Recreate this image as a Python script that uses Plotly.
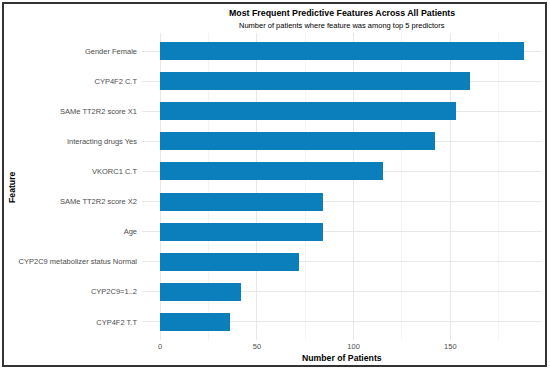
import plotly.graph_objects as go

features = ["Gender Female", "CYP4F2 C.T", "SAMe TT2R2 score X1", "Interacting drugs Yes",
            "VKORC1 C.T", "SAMe TT2R2 score X2", "Age", "CYP2C9 metabolizer status Normal",
            "CYP2C9=1..2", "CYP4F2 T.T"]
counts = [188, 160, 153, 142, 115, 84, 84, 72, 42, 36]

W, H = 550, 370
L, R, T, B = 142, 8, 33, 30
pw, ph = W - L - R, H - T - B


def px(x):
    return (x - L) / pw


def py(y):
    return (H - B - y) / ph


fig = go.Figure(go.Bar(
    x=counts, y=features, orientation="h", width=0.6,
    marker=dict(color="#0A7FBB", line=dict(width=0)),
))

xmax = max(counts)
fig.update_layout(
    width=W, height=H,
    margin=dict(l=L, r=R, t=T, b=B, autoexpand=False),
    paper_bgcolor="white", plot_bgcolor="white",
    font=dict(family="Liberation Sans, Arial, sans-serif", color="#4D4D4D", size=7.5),
    showlegend=False,
    xaxis=dict(range=[-0.05 * xmax, 1.05 * xmax], tickvals=[0, 50, 100, 150],
               automargin=False,
               showgrid=True, gridcolor="#E8E8E8", gridwidth=1,
               minor=dict(tickvals=[25, 75, 125, 175], showgrid=True, gridcolor="#F4F4F4", gridwidth=1),
               zeroline=False, showline=False, ticks="",
               tickfont=dict(size=7.5, color="#4D4D4D")),
    yaxis=dict(categoryorder="array", categoryarray=features[::-1],
               range=[-0.6, len(features) - 0.4], automargin=False,
               showgrid=True, gridcolor="#E8E8E8", gridwidth=1,
               zeroline=False, showline=False, ticks="", ticklabelstandoff=4,
               tickfont=dict(size=7.5, color="#4D4D4D")),
    bargap=0,
)

fig.add_annotation(text="<b>Most Frequent Predictive Features Across All Patients</b>",
                   xref="paper", yref="paper", x=0.5, y=py(13),
                   showarrow=False, font=dict(size=8.8, color="black"), xanchor="center", yanchor="middle")
fig.add_annotation(text="Number of patients where feature was among top 5 predictors",
                   xref="paper", yref="paper", x=0.5, y=py(25.5),
                   showarrow=False, font=dict(size=7.5, color="black"), xanchor="center", yanchor="middle")
fig.add_annotation(text="<b>Number of Patients</b>",
                   xref="paper", yref="paper", x=0.5, y=py(357.5),
                   showarrow=False, font=dict(size=8.7, color="black"), xanchor="center", yanchor="middle")
fig.add_annotation(text="<b>Feature</b>", textangle=-90,
                   xref="paper", yref="paper", x=px(12), y=py(187),
                   showarrow=False, font=dict(size=8.7, color="black"), xanchor="center", yanchor="middle")

# outer border
fig.add_shape(type="rect", xref="paper", yref="paper",
              x0=px(3), x1=px(546), y0=py(366), y1=py(3),
              line=dict(color="#333333", width=2), layer="above")

fig.write_html("out.html", config={"displayModeBar": False},
               post_script="document.body.style.margin='0';document.body.style.overflow='hidden';")
